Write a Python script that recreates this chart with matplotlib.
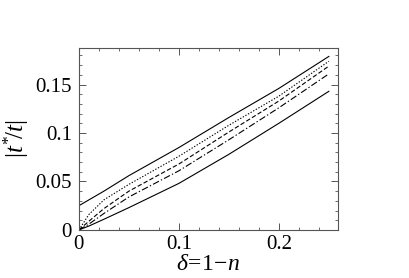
import numpy as np
import matplotlib
matplotlib.use("Agg")
import matplotlib.pyplot as plt
from matplotlib.ticker import MultipleLocator, FormatStrFormatter

plt.rcParams['font.family'] = ['Liberation Serif', 'DejaVu Serif']
plt.rcParams['mathtext.fontset'] = 'custom'
plt.rcParams['mathtext.rm'] = 'Liberation Serif'
plt.rcParams['mathtext.it'] = 'Liberation Serif:italic'

# delta values and |t*/t| curves
delta = [0, 0.01, 0.025, 0.05, 0.1, 0.15, 0.2, 0.25]
top_solid = [0.025, 0.031, 0.040, 0.056, 0.085, 0.116, 0.146, 0.179]
dotted = [0, 0.016, 0.031, 0.047, 0.076, 0.108, 0.138, 0.174]
dashed = [0, 0.009, 0.022, 0.040, 0.068, 0.101, 0.133, 0.169]
dashdot = [0, 0.006, 0.017, 0.034, 0.061, 0.093, 0.126, 0.161]
bottom_solid = [0, 0.004, 0.011, 0.023, 0.048, 0.078, 0.110, 0.143]

fig = plt.figure(figsize=(4.09, 2.78), dpi=100)
ax = fig.add_axes([0.193, 0.173, 0.633, 0.654])

lw = 0.8
ax.plot(delta, top_solid, color='black', lw=lw)
ax.plot(delta, dotted, color='black', lw=lw, dashes=(1.2, 1.5))
ax.plot(delta, dashed, color='black', lw=lw, dashes=(4, 2))
ax.plot(delta, dashdot, color='black', lw=lw, dashes=(6, 2, 1.2, 2))
ax.plot(delta, bottom_solid, color='black', lw=lw)

ax.set_xlim(0, 0.259)
ax.set_ylim(0, 0.1876)
ax.xaxis.set_major_locator(MultipleLocator(0.1))
ax.xaxis.set_minor_locator(MultipleLocator(0.02))
ax.yaxis.set_major_locator(MultipleLocator(0.05))
ax.yaxis.set_minor_locator(MultipleLocator(0.01))
ax.xaxis.set_major_formatter(FormatStrFormatter('%g'))
ax.yaxis.set_major_formatter(FormatStrFormatter('%g'))

ax.tick_params(which='both', direction='in', top=True, right=True,
               color='#555555', labelsize=15)
ax.tick_params(which='major', length=5, width=0.7)
ax.tick_params(which='minor', length=2.5, width=0.6)
ax.tick_params(axis='x', which='major', pad=4)
ax.tick_params(axis='y', which='major', pad=5)
for s in ax.spines.values():
    s.set_color('#555555')
    s.set_linewidth(0.8)

ax.set_xlabel(r'$\delta\!=\!1\!-\!n$', fontsize=17, labelpad=0)
ax.set_ylabel(r'$|t^{*}\!/t|$', fontsize=18, labelpad=3)

fig.savefig('out.png', dpi=100)
